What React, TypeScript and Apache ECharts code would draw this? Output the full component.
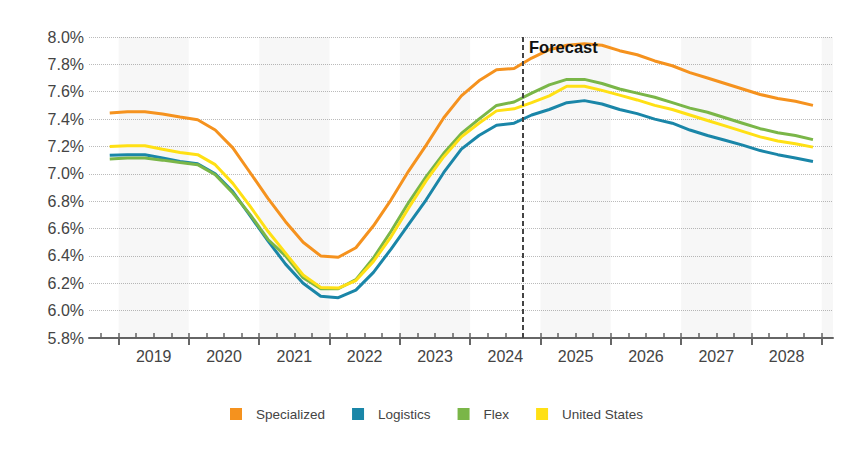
import React, { useEffect, useRef } from "react";
import * as echarts from "echarts";

const quarters = [
  "2018 Q4",
  "2019 Q1", "2019 Q2", "2019 Q3", "2019 Q4",
  "2020 Q1", "2020 Q2", "2020 Q3", "2020 Q4",
  "2021 Q1", "2021 Q2", "2021 Q3", "2021 Q4",
  "2022 Q1", "2022 Q2", "2022 Q3", "2022 Q4",
  "2023 Q1", "2023 Q2", "2023 Q3", "2023 Q4",
  "2024 Q1", "2024 Q2", "2024 Q3", "2024 Q4",
  "2025 Q1", "2025 Q2", "2025 Q3", "2025 Q4",
  "2026 Q1", "2026 Q2", "2026 Q3", "2026 Q4",
  "2027 Q1", "2027 Q2", "2027 Q3", "2027 Q4",
  "2028 Q1", "2028 Q2", "2028 Q3", "2028 Q4",
];

const specialized = [
  7.444, 7.453, 7.453, 7.437, 7.415, 7.395, 7.32, 7.19, 7.006, 6.82, 6.65, 6.5, 6.4, 6.39,
  6.46, 6.62, 6.81, 7.02, 7.21, 7.41, 7.57, 7.68, 7.76, 7.77, 7.846, 7.907, 7.94, 7.95, 7.94,
  7.9, 7.87, 7.825, 7.79, 7.74, 7.7, 7.66, 7.62, 7.58, 7.55, 7.53, 7.5,
];
const logistics = [
  7.135, 7.14, 7.14, 7.115, 7.09, 7.074, 7.0, 6.87, 6.69, 6.51, 6.34, 6.2, 6.105, 6.095,
  6.15, 6.28, 6.45, 6.63, 6.81, 7.01, 7.18, 7.28, 7.355, 7.37, 7.43, 7.47, 7.52, 7.535, 7.51,
  7.47, 7.44, 7.4, 7.37, 7.32, 7.28, 7.245, 7.21, 7.17, 7.14, 7.115, 7.09,
];
const flex = [
  7.108, 7.115, 7.115, 7.1, 7.083, 7.067, 6.993, 6.86, 6.7, 6.52, 6.4, 6.24, 6.16, 6.16,
  6.227, 6.385, 6.58, 6.79, 6.98, 7.15, 7.295, 7.4, 7.5, 7.525, 7.59, 7.65, 7.69, 7.69, 7.66,
  7.62, 7.59, 7.56, 7.52, 7.48, 7.45, 7.41, 7.37, 7.33, 7.3, 7.28, 7.25,
];
const unitedStates = [
  7.2, 7.205, 7.205, 7.18, 7.156, 7.14, 7.067, 6.93, 6.76, 6.58, 6.42, 6.26, 6.17, 6.165,
  6.22, 6.36, 6.54, 6.75, 6.95, 7.125, 7.27, 7.37, 7.46, 7.475, 7.52, 7.57, 7.64, 7.64, 7.61,
  7.575, 7.54, 7.5, 7.47, 7.43, 7.39, 7.35, 7.31, 7.27, 7.24, 7.22, 7.195,
];

const yearLabels = [2019, 2020, 2021, 2022, 2023, 2024, 2025, 2026, 2027, 2028];
const shadedYears = [2019, 2021, 2023, 2025, 2027, 2029];
const forecastStart = 2024.75;
const seriesNames = ["Specialized", "Logistics", "Flex", "United States"];
const seriesColors = ["#F5921E", "#1A86A8", "#7AB648", "#FFE014"];

const X_MIN = 2018.58;
const X_MAX = 2029.16;
const FONT = "'Liberation Sans', Arial, sans-serif";

function qpos(q: string): number {
  const [y, qq] = q.split(" ");
  return Number(y) + (Number(qq.slice(1)) - 1) * 0.25 + 0.125;
}

export default function App() {
  const ref = useRef<HTMLDivElement>(null);
  useEffect(() => {
    if (!ref.current) return;
    const chart = echarts.init(ref.current, undefined, { renderer: "svg" });
    const all = [specialized, logistics, flex, unitedStates];
    const quarterTicks: number[] = [];
    for (let v = 2018.75; v <= 2029.001; v += 0.25) quarterTicks.push(Math.round(v * 100) / 100);
    const yearTicks = yearLabels.concat([2029]);

    const lineSeries = all.map((vals, k) => ({
      name: seriesNames[k],
      type: "line",
      data: quarters.map((q, i) => [qpos(q), vals[i]]),
      symbol: "none",
      smooth: false,
      z: 3,
      lineStyle: { width: 3, color: seriesColors[k] },
      itemStyle: { color: seriesColors[k] },
    }));

    chart.setOption({
      animation: false,
      grid: { left: 89, right: 27, top: 37, bottom: 134 },
      legend: {
        data: seriesNames,
        left: 225,
        top: 402,
        icon: "rect",
        itemWidth: 12,
        itemHeight: 12,
        itemGap: 27,
        textStyle: { fontFamily: FONT, fontSize: 13.5, color: "#444", padding: [0, 0, 0, 9] },
      },
      xAxis: [
        {
          type: "value",
          min: X_MIN,
          max: X_MAX,
          axisLine: { show: true, lineStyle: { color: "#666", width: 2 } },
          axisTick: {
            show: true,
            customValues: quarterTicks,
            inside: true,
            length: 5,
            lineStyle: { color: "#666", width: 1.5 },
          },
          axisLabel: {
            show: true,
            customValues: yearLabels.map((y) => y + 0.5),
            formatter: (v: number) => String(Math.floor(v)),
            fontFamily: FONT,
            fontSize: 16,
            color: "#444",
            margin: 10,
          },
          splitLine: { show: false },
        },
        {
          type: "value",
          min: X_MIN,
          max: X_MAX,
          position: "bottom",
          axisLine: { show: false },
          axisTick: {
            show: true,
            customValues: yearTicks,
            inside: false,
            length: 7,
            lineStyle: { color: "#666", width: 2 },
          },
          axisLabel: { show: false },
          splitLine: { show: false },
        },
      ],
      yAxis: {
        type: "value",
        min: 5.8,
        max: 8.0,
        interval: 0.2,
        axisLine: { show: false },
        axisTick: { show: false },
        axisLabel: {
          formatter: (v: number) => v.toFixed(1) + "%",
          fontFamily: FONT,
          fontSize: 16,
          color: "#444",
          margin: 5,
        },
        splitLine: { show: true, lineStyle: { color: "#bbb", type: "dotted", width: 1 } },
      },
      graphic: [
        {
          type: "text",
          x: 529,
          y: 47,
          z: 10,
          style: {
            text: "Forecast",
            fontFamily: FONT,
            fontWeight: "bold",
            fontSize: 16.5,
            fill: "#111",
            verticalAlign: "middle",
            align: "left",
          },
        },
      ],
      series: [
        {
          name: "_bg",
          type: "line",
          data: [],
          z: 1,
          silent: true,
          markArea: {
            silent: true,
            itemStyle: { color: "rgba(0,0,0,0.03)" },
            data: shadedYears.map((y) => [{ xAxis: y }, { xAxis: Math.min(y + 1, X_MAX) }]),
          },
          markLine: {
            silent: true,
            symbol: "none",
            label: { show: false },
            lineStyle: { color: "#444", type: [5, 3], width: 2 },
            data: [{ xAxis: forecastStart }],
          },
        },
        ...lineSeries,
      ],
    });
    return () => chart.dispose();
  }, []);
  return (
    <div
      ref={ref}
      style={{ position: "fixed", left: 0, top: 0, width: 860, height: 472, background: "#fff" }}
    />
  );
}
